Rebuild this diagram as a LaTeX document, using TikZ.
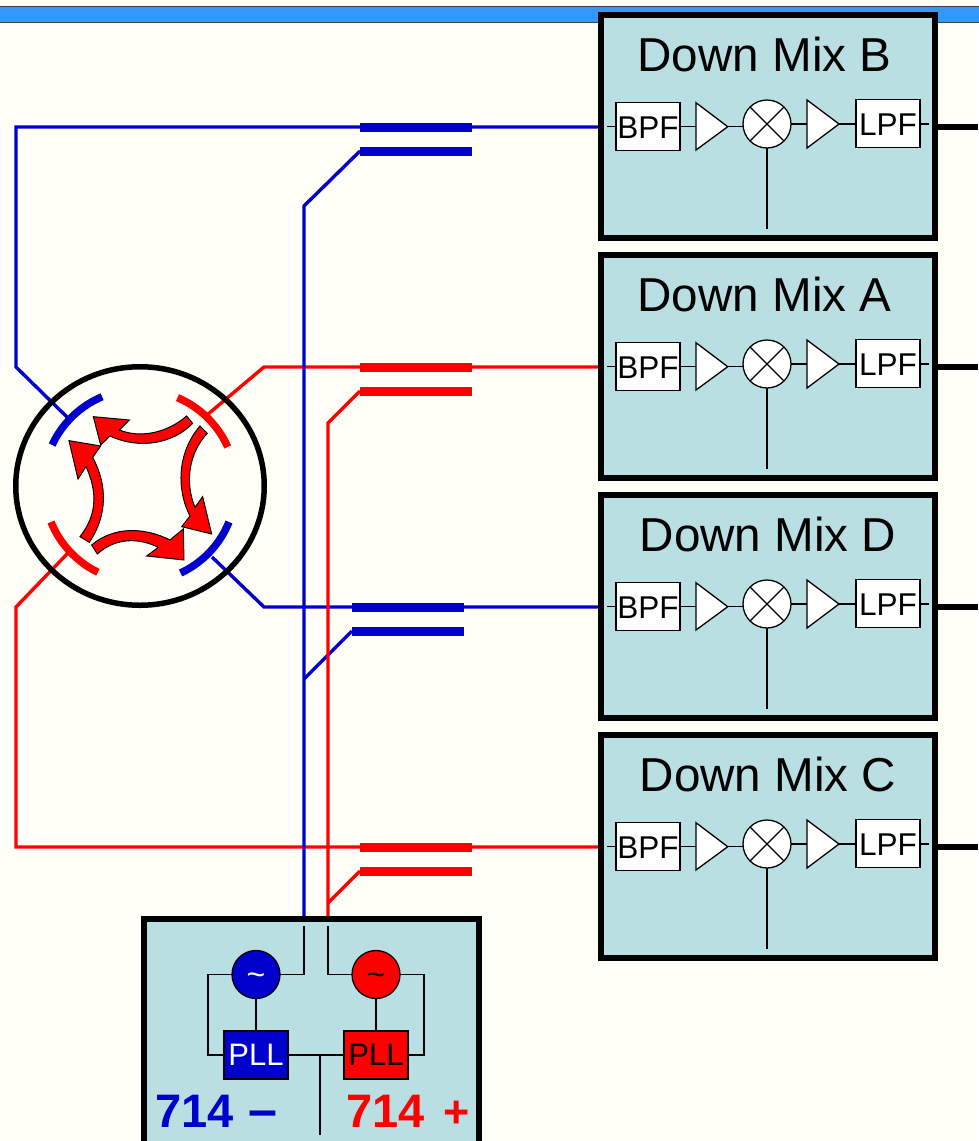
\documentclass[tikz,border=0pt]{standalone}
\usepackage{fontspec}
\usetikzlibrary{shapes.geometric}
\setmainfont{Liberation Sans}
\definecolor{bgc}{HTML}{FFFFF8}
\definecolor{boxc}{HTML}{B9DFE3}
\definecolor{barc}{HTML}{3399FF}
\definecolor{bluec}{HTML}{0000CC}
\definecolor{redc}{HTML}{FF0000}
\tikzset{
  bigbox/.style={draw=black,line width=6.3pt,fill=boxc,inner sep=0pt,outer sep=0pt},
  fil/.style={draw=black,line width=1.3pt,fill=white,inner sep=0pt,outer sep=0pt,minimum width=64pt,minimum height=48pt,font=\fontsize{31.5}{31.5}\selectfont,text height=24pt,text depth=0pt},
  mixc/.style={circle,draw=black,line width=1.3pt,fill=white,inner sep=0pt,outer sep=0pt,minimum size=48pt},
  amp/.style={draw=black,line width=1.3pt,fill=white,line join=miter},
  wire/.style={draw=black,line width=1.3pt},
  bluew/.style={draw=bluec,line width=3.4pt},
  redw/.style={draw=redc,line width=3.4pt},
  bluebar/.style={draw=bluec,line width=9pt},
  redbar/.style={draw=redc,line width=9pt},
  circarrow/.style={draw=black,line width=1pt,fill=redc,line join=miter},
  title/.style={font=\fontsize{47.6}{48}\selectfont,anchor=base,inner sep=0pt},
  vco/.style={circle,draw=black,line width=1.3pt,inner sep=0pt,outer sep=0pt,minimum size=48pt,font=\fontsize{32}{32}\selectfont},
  pll/.style={draw=black,line width=1.3pt,inner sep=0pt,outer sep=0pt,minimum width=64pt,minimum height=48pt,font=\fontsize{31}{31}\selectfont},
  freq/.style={font=\bfseries\fontsize{47}{47}\selectfont,anchor=base west,inner sep=0pt},
  port/.style={line width=7.5pt},
}
\newcommand{\mixblock}[4]{%
  \begin{scope}[yshift=#2]
    \node[bigbox,minimum width=333.6pt,minimum height=223pt,anchor=north west] (box#1) at (601.2,15) {};
    \node[title] (title#1) at (#4,71) {Down Mix #3};
    \coordinate (in#1) at (607,126.7);
    \coordinate (outw#1) at (929,124);
    \coordinate (lo#1) at (767,229);
    \coordinate (t1a#1) at (696,126.7);
    \coordinate (t1b#1) at (727.7,126.7);
    \coordinate (t2a#1) at (807,124);
    \coordinate (t2b#1) at (839,124);
    \node[fil] (bpf#1) at (648,126.5) {BPF};
    \node[fil] (lpf#1) at (888,123.8) {LPF};
    \node[mixc] (mix#1) at (767,124) {};
    \draw[amp] (696,102.7) -- (727.7,126.7) -- (696,150) -- cycle;
    \draw[amp] (807,100) -- (839,124) -- (807,148) -- cycle;
    \draw[wire] (in#1) -- (bpf#1.west |- in#1);
    \draw[wire] (bpf#1.east |- t1a#1) -- (t1a#1);
    \draw[wire] (t1b#1) -- (mix#1.west |- t1b#1);
    \draw[wire] (mix#1.east |- t2a#1) -- (t2a#1);
    \draw[wire] (t2b#1) -- (lpf#1.west |- t2b#1);
    \draw[wire] (lpf#1.east |- outw#1) -- (outw#1);
    \draw[wire] (mix#1.south) -- (lo#1);
    \draw[wire] (mix#1.45) -- (mix#1.225);
    \draw[wire] (mix#1.135) -- (mix#1.315);
    \coordinate (edge#1) at (938,126.5);
    \coordinate (right#1) at (978,126.5);
    \draw[line width=6pt] (edge#1) -- (right#1);
  \end{scope}}
\begin{document}
\begin{tikzpicture}[x=1pt,y=-1pt]
\useasboundingbox (0,0) rectangle (978,1141);
\fill[bgc] (0,0) rectangle (978,1141);
\draw[fill=barc,draw=black!75,line width=1pt] (-2,6.3) rectangle (980,22);

% coupler end points
\coordinate (a1) at (360,127); \coordinate (a2) at (472,127);
\coordinate (b1) at (360,151); \coordinate (b2) at (472,151);
\coordinate (c1) at (360,367); \coordinate (c2) at (472,367);
\coordinate (d1) at (360,391); \coordinate (d2) at (472,391);
\coordinate (e1) at (352,607); \coordinate (e2) at (464,607);
\coordinate (f1) at (352,631); \coordinate (f2) at (464,631);
\coordinate (g1) at (360,847); \coordinate (g2) at (472,847);
\coordinate (h1) at (360,871); \coordinate (h2) at (472,871);
\coordinate (pb) at (68,418); \coordinate (pr) at (207,415);
\coordinate (pl) at (68,553); \coordinate (pd) at (212,557);
\coordinate (mb) at (600,127); \coordinate (ma) at (600,367);
\coordinate (md) at (600,607); \coordinate (mc) at (600,847);
\coordinate (vb) at (304,919); \coordinate (vr) at (328,919);

% red horizontals lie below the blue vertical
\draw[redw] (pr) -- (264,367) -- (ma);
\draw[redw] (pl) -- (16,607) -- (16,847) -- (mc);
% blue wiring
\draw[bluew] (pb) -- (16,367) -- (16,127) -- (mb);
\draw[bluew] (pd) -- (264,607) -- (md);
\draw[bluew] (b1) -- (304,206) -- (vb);
\draw[bluew] (f1) -- (304,679);
% red verticals on top
\draw[redw] (d1) -- (328,423) -- (vr);
\draw[redw] (h1) -- (328,903);
% coupler bars
\draw[bluebar] (a1) -- (a2); \draw[bluebar] (b1) -- (b2);
\draw[redbar] (c1) -- (c2); \draw[redbar] (d1) -- (d2);
\draw[bluebar] (e1) -- (e2); \draw[bluebar] (f1) -- (f2);
\draw[redbar] (g1) -- (g2); \draw[redbar] (h1) -- (h2);

% hybrid ring
\node[ellipse,draw=black,line width=5.5pt,inner sep=0pt,outer sep=0pt,minimum width=248.5pt,minimum height=238.5pt] (ring) at (140,486) {};
\begin{scope}[shift={(140,486)},y=1pt]
  \draw[bluec,port] (155:97) arc (155:113:97);
  \draw[redc,port] (67:96) arc (67:24:96);
  \draw[redc,port] (202:96) arc (202:244:96);
  \draw[bluec,port] (-22:96) arc (-22:-65:96);
\end{scope}
\begin{scope}[shift={(0,350)},x=0.3333pt,y=-0.3333pt]
  \draw[circarrow] (560,198) .. controls (500,250) and (420,265) .. (358,240) -- (388,210) -- (280,200) -- (302,285) -- (330,258) .. controls (420,300) and (520,280) .. (578,220) -- cycle;
  \draw[circarrow] (622,250) .. controls (565,310) and (555,400) .. (585,472) -- (608,440) -- (635,552) -- (545,530) -- (570,498) .. controls (530,420) and (530,310) .. (600,228) -- cycle;
  \draw[circarrow] (268,577) .. controls (320,500) and (325,410) .. (278,322) -- (302,288) -- (207,272) -- (234,387) -- (258,350) .. controls (290,420) and (295,490) .. (240,560) -- cycle;
  \draw[circarrow] (275,585) .. controls (340,530) and (430,530) .. (510,570) -- (550,537) -- (552,630) -- (440,618) -- (475,592) .. controls (420,565) and (350,560) .. (292,612) -- cycle;
\end{scope}

% down-mix blocks
\mixblock{B}{0}{B}{764.5}
\mixblock{A}{-240}{A}{764.5}
\mixblock{D}{-480}{D}{768}
\mixblock{C}{-720}{C}{768}

% synthesiser block
\node[bigbox,minimum width=334.5pt,minimum height=224.5pt,anchor=north west] (synth) at (144.2,919.2) {};
\node[vco,fill=bluec,text=white] (vcob) at (256,974.5) {\raisebox{-11pt}[0pt][0pt]{\char`\~}};
\node[vco,fill=redc,text=black] (vcor) at (376,974.5) {\raisebox{-11pt}[0pt][0pt]{\char`\~}};
\node[pll,fill=bluec,text=white] (pllb) at (256,1055) {PLL};
\node[pll,fill=redc,text=black] (pllr) at (376,1055) {PLL};
\coordinate (sb) at (304,926); \coordinate (sr) at (328,926);
\coordinate (lo) at (320,1135); \coordinate (jn) at (320,1055);
\draw[wire] (sb) -- (304,974.5) -- (vcob.east);
\draw[wire] (sr) -- (328,974.5) -- (vcor.west);
\draw[wire] (vcob.west) -- (208,974.5) -- (208,1055) -- (pllb.west);
\draw[wire] (vcor.east) -- (424,974.5) -- (424,1055) -- (pllr.east);
\draw[wire] (vcob) -- (pllb);
\draw[wire] (vcor) -- (pllr);
\draw[wire] (pllb.east) -- (pllr.west);
\draw[wire] (jn) -- (lo);
\node[freq,text=bluec] (fb) at (155,1127) {714\hspace{2pt} {\fontsize{52}{52}\selectfont –}};
\node[freq,text=redc] (fr) at (346,1127) {714\hspace{6pt} {\fontsize{45}{45}\selectfont +}};
\end{tikzpicture}
\end{document}
